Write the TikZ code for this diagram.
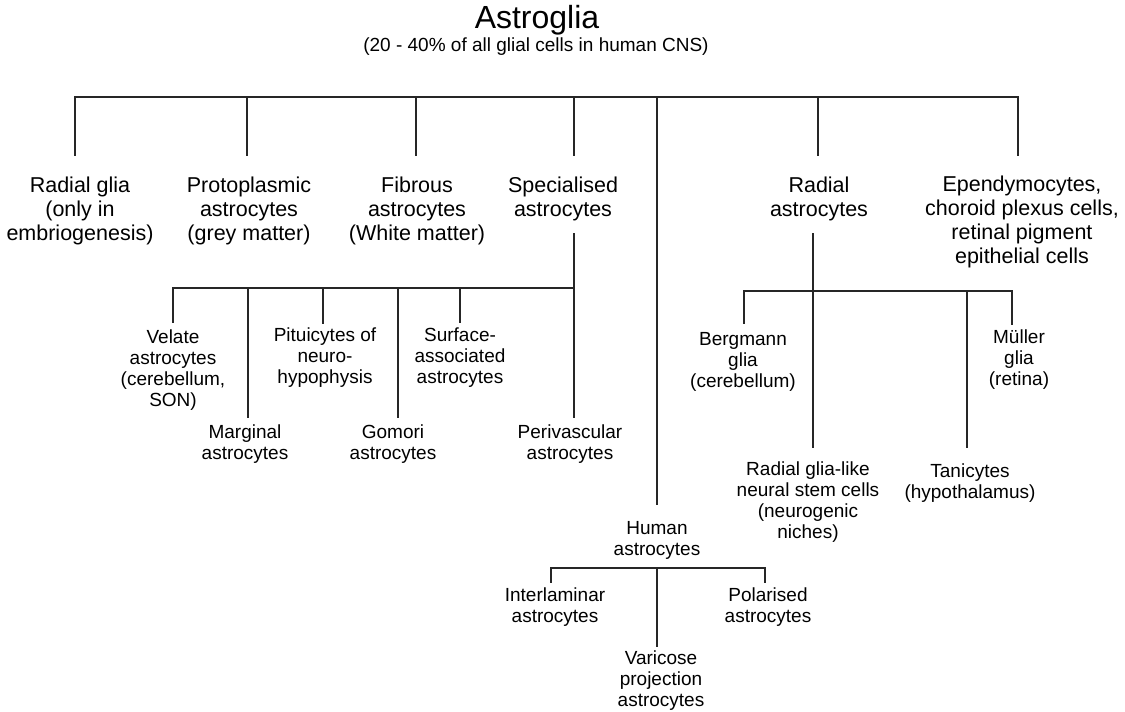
\documentclass[tikz,border=0pt]{standalone}
\usepackage{fontspec}
\setmainfont{Liberation Sans}
\begin{document}
\begin{tikzpicture}[x=1pt,y=-1pt,
  lone/.style={font=\fontsize{21.5}{24}\selectfont, align=center, inner sep=0pt},
  ltwo/.style={font=\fontsize{19}{21}\selectfont, align=center, inner sep=0pt},
  link/.style={draw=black!85, line width=1.8pt, line cap=rect}]
\useasboundingbox[fill=white] (0,0) rectangle (1125,712);
% titles
\node[inner sep=0pt, anchor=base, font=\fontsize{32}{36}\selectfont] (title) at (537,28) {Astroglia};
\node[inner sep=0pt, anchor=base, font=\fontsize{19}{22}\selectfont] (sub) at (536,51) {(20 - 40\% of all glial cells in human CNS)};
% level 1
\node[lone] (rg) at (80,211) {Radial glia\\(only in\\embriogenesis)};
\node[lone] (pa) at (249,211) {Protoplasmic\\astrocytes\\(grey matter)};
\node[lone] (fa) at (417,211) {Fibrous\\astrocytes\\(White matter)};
\node[lone] (sa) at (563,199) {Specialised\\astrocytes};
\node[lone] (ra) at (819,199) {Radial\\astrocytes};
\node[lone] (ep) at (1022,222) {Ependymocytes,\\choroid plexus cells,\\retinal pigment\\epithelial cells};
% level 2 specialised
\node[ltwo] (ve) at (173,370) {Velate\\astrocytes\\(cerebellum,\\SON)};
\node[ltwo] (ma) at (245,444) {Marginal\\astrocytes};
\node[ltwo] (pi) at (325,358) {Pituicytes of\\neuro-\\hypophysis};
\node[ltwo] (go) at (393,444) {Gomori\\astrocytes};
\node[ltwo] (su) at (460,358) {Surface-\\associated\\astrocytes};
\node[ltwo] (pv) at (570,444) {Perivascular\\astrocytes};
% level 2 radial
\node[ltwo] (bg) at (743,362) {Bergmann\\glia\\(cerebellum)};
\node[ltwo] (mu) at (1019,360) {Müller\\glia\\(retina)};
\node[ltwo] (rl) at (808,502) {Radial glia-like\\neural stem cells\\(neurogenic\\niches)};
\node[ltwo] (ta) at (970,483) {Tanicytes\\(hypothalamus)};
% human
\node[ltwo] (hu) at (657,540) {Human\\astrocytes};
\node[ltwo] (il) at (555,607) {Interlaminar\\astrocytes};
\node[ltwo] (po) at (768,607) {Polarised\\astrocytes};
\node[ltwo] (va) at (661,681) {Varicose\\projection\\astrocytes};
% coordinates
\coordinate (t1) at (75,97);   \coordinate (e1) at (75,155);
\coordinate (t2) at (247,97);  \coordinate (e2) at (247,155);
\coordinate (t3) at (416,97);  \coordinate (e3) at (416,155);
\coordinate (t4) at (574,97);  \coordinate (e4) at (574,155);
\coordinate (t5) at (657,97);  \coordinate (e5) at (657,504);
\coordinate (t6) at (818,97);  \coordinate (e6) at (818,155);
\coordinate (t7) at (1018,97); \coordinate (e7) at (1018,155);
% specialised subtree
\coordinate (s0) at (574,234); \coordinate (s6) at (574,288);
\coordinate (s1) at (173,288); \coordinate (f1) at (173,322);
\coordinate (s2) at (248,288); \coordinate (f2) at (248,417);
\coordinate (s3) at (323,288); \coordinate (f3) at (323,323);
\coordinate (s4) at (398,288); \coordinate (f4) at (398,417);
\coordinate (s5) at (460,288); \coordinate (f5) at (460,322);
\coordinate (f6) at (574,417);
% radial subtree
\coordinate (r0) at (813,234); \coordinate (r2) at (813,291);
\coordinate (r1) at (744,291); \coordinate (g1) at (744,323);
\coordinate (r3) at (967,291); \coordinate (g3) at (967,447);
\coordinate (r4) at (1012,291); \coordinate (g4) at (1012,324);
\coordinate (g2) at (813,447);
% human subtree
\coordinate (h2) at (657,568);
\coordinate (h1) at (551,568); \coordinate (k1) at (551,582);
\coordinate (h3) at (765,568); \coordinate (k3) at (765,582);
\coordinate (k2) at (657,646);
% connectors
\draw[link] (t1) -- (t7);
\draw[link] (t1) -- (e1);
\draw[link] (t2) -- (e2);
\draw[link] (t3) -- (e3);
\draw[link] (t4) -- (e4);
\draw[link] (t5) -- (e5);
\draw[link] (t6) -- (e6);
\draw[link] (t7) -- (e7);
\draw[link] (s0) -- (f6);
\draw[link] (s1) -- (s6);
\draw[link] (s1) -- (f1);
\draw[link] (s2) -- (f2);
\draw[link] (s3) -- (f3);
\draw[link] (s4) -- (f4);
\draw[link] (s5) -- (f5);
\draw[link] (r0) -- (g2);
\draw[link] (r1) -- (r4);
\draw[link] (r1) -- (g1);
\draw[link] (r3) -- (g3);
\draw[link] (r4) -- (g4);
\draw[link] (h1) -- (h3);
\draw[link] (h1) -- (k1);
\draw[link] (h3) -- (k3);
\draw[link] (h2) -- (k2);
\end{tikzpicture}
\end{document}
